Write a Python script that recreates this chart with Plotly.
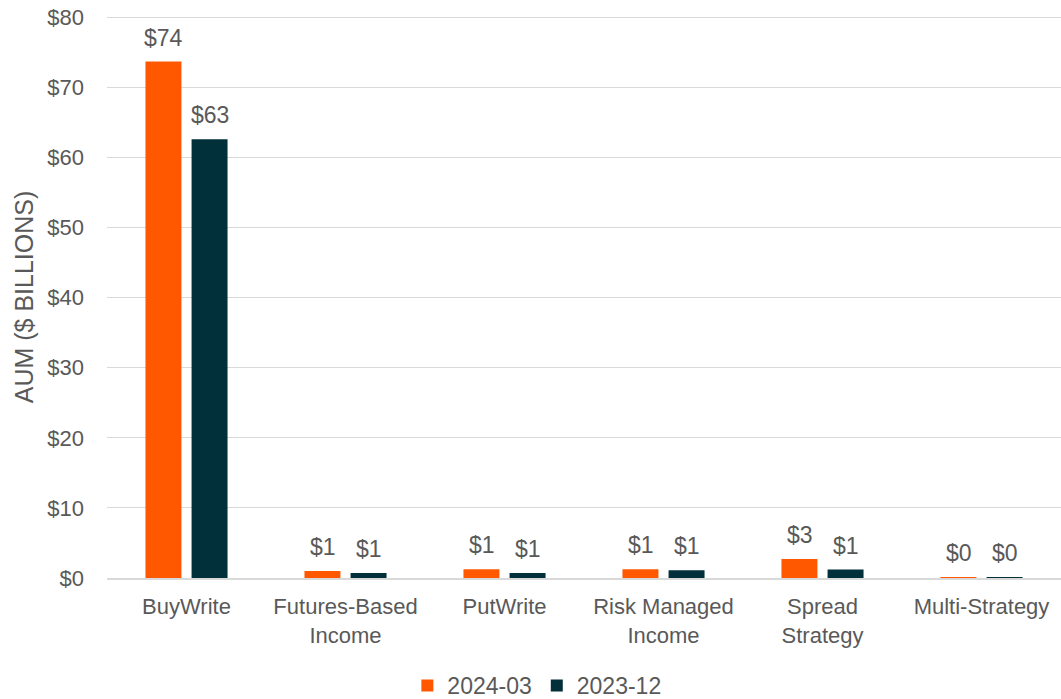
import plotly.graph_objects as go

categories = ["BuyWrite", "Futures-Based<br>Income", "PutWrite", "Risk Managed<br>Income", "Spread<br>Strategy", "Multi-Strategy"]
series_names = ["2024-03", "2023-12"]
values_2024_03 = [73.7, 1.0, 1.25, 1.25, 2.7, 0.1]
values_2023_12 = [62.6, 0.7, 0.7, 1.1, 1.2, 0.1]
colors = ["#FF5800", "#01303A"]
y_ticks = [0, 10, 20, 30, 40, 50, 60, 70, 80]
y_tick_labels = ["$" + str(v) for v in y_ticks]
y_max = 80.2

FONT = "Liberation Sans, Arial, sans-serif"
GREY = "#595959"

fig = go.Figure()
all_vals = [values_2024_03, values_2023_12]
for name, vals, col in zip(series_names, all_vals, colors):
    fig.add_trace(go.Bar(
        x=categories, y=vals, name=name, marker_color=col,
        marker_line_width=0,
    ))

# data labels above bars
for k, vals in enumerate(all_vals):
    xs = -23 if k == 0 else 23
    for c, v in zip(categories, vals):
        fig.add_annotation(x=c, y=v, xref="x", yref="y", text="$" + str(round(v)),
                           showarrow=False, xshift=xs, yshift=9, yanchor="bottom",
                           font=dict(family=FONT, size=23, color=GREY))

fig.update_layout(
    width=1061, height=707,
    margin=dict(l=107, r=0, t=16, b=129),
    paper_bgcolor="white", plot_bgcolor="white",
    barmode="group", bargap=0.42, bargroupgap=0.22,
    font=dict(family=FONT, size=23, color=GREY),
    legend=dict(orientation="h", xref="container", yref="container",
                x=0.506, xanchor="center", y=0.0, yanchor="bottom",
                font=dict(size=23, color=GREY), itemwidth=30,
                traceorder="normal"),
)
fig.update_yaxes(range=[0, y_max], tickvals=y_ticks, ticktext=y_tick_labels,
                 showgrid=True, gridcolor="#D9D9D9", gridwidth=1,
                 zeroline=False, showline=False, ticks="", automargin=False,
                 ticklabeloverflow="allow",
                 ticklabelstandoff=22, tickfont=dict(size=22),
                 title=dict(text="AUM ($ BILLIONS)", standoff=6,
                            font=dict(size=25, color=GREY)))
fig.update_xaxes(showline=True, linecolor="#D9D9D9", linewidth=2, ticks="",
                 automargin=False, ticklabelstandoff=8, tickfont=dict(size=22))

fig.write_html("out.html", config={"displayModeBar": False},
               post_script="document.body.style.margin='0';document.body.style.overflow='hidden';")
